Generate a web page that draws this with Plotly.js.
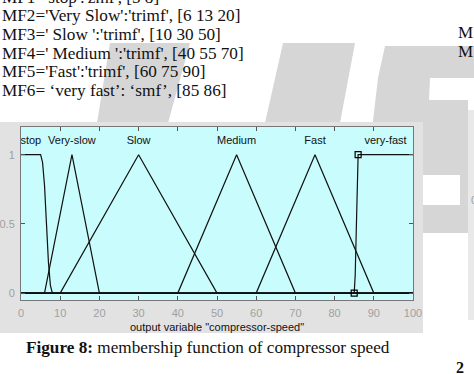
<!DOCTYPE html>
<html>
<head>
<meta charset="utf-8">
<script src="https://cdn.plot.ly/plotly-3.0.1.min.js"></script>
<style>
html,body{margin:0;padding:0;background:#fff;}
#chart{width:474px;height:374px;}
</style>
</head>
<body>
<div id="chart"></div>
<script>
// ---- data ----
const categories = ['stop', 'Very-slow', 'Slow', 'Medium', 'Fast', 'very-fast'];
const labelX = [2.5, 13, 30, 55, 75, 93];
const labelY = [1.1, 1.1, 1.1, 1.1, 1.1, 1.1];

const stopX = [0, 5, 5.5, 6, 6.5, 7, 7.5, 8, 100];
const stopY = [1, 1, 0.944, 0.778, 0.5, 0.222, 0.056, 0, 0];
const verySlowX = [0, 6, 13, 20, 100];
const verySlowY = [0, 0, 1, 0, 0];
const slowX = [0, 10, 30, 50, 100];
const slowY = [0, 0, 1, 0, 0];
const mediumX = [0, 40, 55, 70, 100];
const mediumY = [0, 0, 1, 0, 0];
const fastX = [0, 60, 75, 90, 100];
const fastY = [0, 0, 1, 0, 0];
const veryFastX = [0, 85, 85.25, 85.5, 85.75, 86, 100];
const veryFastY = [0, 0, 0.125, 0.5, 0.875, 1, 1];
const veryFastMarkX = [85, 86];
const veryFastMarkY = [0, 1];

const xTicks = [0, 10, 20, 30, 40, 50, 60, 70, 80, 90, 100];
const yTicks = [0, 0.5, 1];
const yTickText = ['0', '0.5', '1'];

const textLines = [
  "MF1='stop':'zmf', [5 8]",
  "MF2='Very Slow':'trimf', [6 13 20]",
  "MF3=' Slow ':'trimf', [10 30 50]",
  "MF4=' Medium ':'trimf', [40 55 70]",
  "MF5='Fast':'trimf', [60 75 90]",
  "MF6= \u2018very fast\u2019: \u2018smf\u2019, [85 86]"
];
const xTitle = 'output variable "compressor-speed"';
const caption = '<b>Figure 8:</b> membership function of compressor speed';

// ---- geometry helpers (pixel -> paper) ----
const L = 21, R = 413, T = 127, B = 300;
const W = 474, H = 374;
const px = x => (x - L) / (R - L);
const py = y => (B - y) / (B - T);
function poly(pts, color) {
  let d = pts.map((p, i) => (i ? 'L' : 'M') + px(p[0]).toFixed(4) + ',' + py(p[1]).toFixed(4)).join(' ') + ' Z';
  return {type: 'path', xref: 'paper', yref: 'paper', path: d, fillcolor: color, line: {width: 0}, layer: 'below'};
}
function rect(x0, y0, x1, y1, color) {
  return {type: 'rect', xref: 'paper', yref: 'paper', x0: px(x0), x1: px(x1), y0: py(y1), y1: py(y0),
    fillcolor: color, line: {width: 0}, layer: 'below'};
}

const lineColor = '#111';
const mfSeries = [[stopX, stopY], [verySlowX, verySlowY], [slowX, slowY], [mediumX, mediumY], [fastX, fastY], [veryFastX, veryFastY]];
const traces = mfSeries.map(s => ({
  x: s[0], y: s[1], type: 'scatter', mode: 'lines',
  line: {color: lineColor, width: 1.2}, hoverinfo: 'skip', showlegend: false, cliponaxis: false
}));
traces.push({
  x: veryFastMarkX, y: veryFastMarkY, type: 'scatter', mode: 'markers',
  marker: {symbol: 'square-open', size: 6, color: '#000', line: {width: 1.2}},
  showlegend: false, hoverinfo: 'skip', cliponaxis: false
});
traces.push({
  x: labelX, y: labelY, type: 'scatter', mode: 'text', text: categories,
  textfont: {family: 'Liberation Sans, Arial, sans-serif', size: 11, color: '#111'},
  textposition: 'middle center', showlegend: false, hoverinfo: 'skip'
});

const wm = '#d6d6d6';
const shapes = [
  poly([[110, 43], [190, 43], [168, 123], [97, 123]], wm),
  poly([[283, 43], [355, 43], [340, 123], [265, 123]], wm),
  poly([[385, 46], [474, 46], [474, 78], [430, 78], [423, 233], [360, 233], [378, 78]], wm),
  rect(423, 100, 468, 233, wm),
  rect(423, 175, 460, 205, '#ffffff'),
  rect(468, 110, 474, 320, '#e9e9e9'),
  rect(0, 122, 423, 333, '#e2e2e2'),
  rect(L, T, R, B, '#c9fcfc')
];

const annotations = [];
textLines.forEach((t, i) => {
  annotations.push({
    xref: 'paper', yref: 'paper', x: px(0), y: py(-3 + i * 18.7), xanchor: 'left', yanchor: 'middle',
    text: t, showarrow: false, font: {family: 'Liberation Serif, Times New Roman, serif', size: 17.2, color: '#111'}
  });
});
annotations.push({xref: 'paper', yref: 'paper', x: px(456), y: py(32), xanchor: 'left', yanchor: 'middle',
  text: 'M', showarrow: false, font: {family: 'Liberation Serif, serif', size: 17, color: '#111'}});
annotations.push({xref: 'paper', yref: 'paper', x: px(456), y: py(51), xanchor: 'left', yanchor: 'middle',
  text: 'M', showarrow: false, font: {family: 'Liberation Serif, serif', size: 17, color: '#111'}});
annotations.push({xref: 'paper', yref: 'paper', x: px(469), y: py(200), xanchor: 'left', yanchor: 'middle',
  text: '0', showarrow: false, font: {family: 'Liberation Sans, sans-serif', size: 11, color: '#999'}});
annotations.push({xref: 'paper', yref: 'paper', x: px(454), y: py(367), xanchor: 'left', yanchor: 'middle',
  text: '<b>2</b>', showarrow: false, font: {family: 'Liberation Serif, serif', size: 16, color: '#111'}});
annotations.push({xref: 'paper', yref: 'paper', x: px(217), y: py(327), xanchor: 'center', yanchor: 'middle',
  text: xTitle, showarrow: false, font: {family: 'Liberation Sans, Arial, sans-serif', size: 11, color: '#111'}});
annotations.push({xref: 'paper', yref: 'paper', x: px(208), y: py(347), xanchor: 'center', yanchor: 'middle',
  text: caption, showarrow: false, font: {family: 'Liberation Serif, Times New Roman, serif', size: 17.2, color: '#111'}});

const layout = {
  width: W, height: H,
  margin: {l: L, r: W - R, t: T, b: H - B, pad: 0},
  paper_bgcolor: '#ffffff',
  plot_bgcolor: '#c9fcfc',
  showlegend: false,
  xaxis: {
    range: [0, 100], tickvals: xTicks, ticks: 'inside', ticklen: 4, tickcolor: '#555',
    showline: true, linecolor: '#777', linewidth: 1, mirror: 'ticks', showgrid: false, zeroline: false,
    tickfont: {family: 'Liberation Sans, Arial, sans-serif', size: 11, color: '#a0a0a0'},
    ticklabelstandoff: 3, fixedrange: true
  },
  yaxis: {
    range: [-0.05, 1.2], tickvals: yTicks, ticktext: yTickText, ticks: 'inside', ticklen: 4, tickcolor: '#555',
    showline: true, linecolor: '#777', linewidth: 1, mirror: 'ticks', showgrid: false, zeroline: false,
    tickfont: {family: 'Liberation Sans, Arial, sans-serif', size: 11, color: '#a0a0a0'},
    ticklabelstandoff: 3, fixedrange: true
  },
  shapes: shapes,
  annotations: annotations
};

Plotly.newPlot('chart', traces, layout, {staticPlot: true, displayModeBar: false});
</script>
</body>
</html>
